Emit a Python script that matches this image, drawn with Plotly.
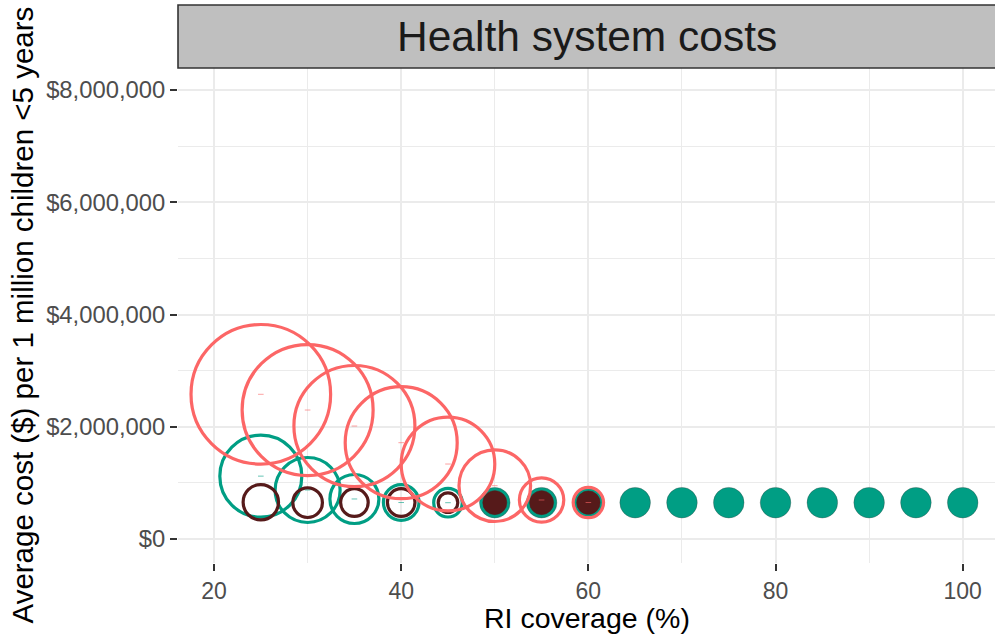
import plotly.graph_objects as go

# ---------------- data ----------------
coverage = [25, 30, 35, 40, 45, 50, 55, 60, 65, 70, 75, 80, 85, 90, 95, 100]

red_x = [25, 30, 35, 40, 45, 50, 55, 60]
red_cost = [2578000, 2298000, 2013000, 1716000, 1336000, 950000, 695000, 650000]
red_size = [139.6, 131, 121, 112, 93.6, 71.6, 44.4, 30.4]
red_filled = [False, False, False, False, False, False, False, False]

teal_x = coverage
teal_cost = [1120000, 873000, 713000, 650000, 647000, 647000, 647000, 647000,
             647000, 647000, 647000, 647000, 647000, 647000, 647000, 647000]
teal_size = [82, 65, 49, 35.6, 28.6, 30.6, 30.6, 30.6,
             30.6, 30.6, 30.6, 30.6, 30.6, 30.6, 30.6, 30.6]
teal_filled = [False, False, False, False, False, True, True, True,
               True, True, True, True, True, True, True, True]

brown_x = [25, 30, 35, 40, 45, 50, 55, 60]
brown_cost = [655000, 647000, 650000, 650000, 648000, 648000, 648000, 648000]
brown_size = [35.4, 29.6, 27.6, 27.6, 19.6, 24, 24, 23.4]
brown_filled = [False, False, False, False, False, True, True, True]

x_ticks = [20, 40, 60, 80, 100]
x_minor = [30, 50, 70, 90]
y_ticks = [0, 2000000, 4000000, 6000000, 8000000]
y_ticktext = ["$0", "$2,000,000", "$4,000,000", "$6,000,000", "$8,000,000"]
y_minor = [1000000, 3000000, 5000000, 7000000]

title_strip = "Health system costs"
x_title = "RI coverage (%)"
y_title = "Average cost ($) per 1 million children <5 years"

RED = "#FC6666"
TEAL = "#009E84"
BROWN = "#561A1A"
FONT = "Liberation Sans, Arial, sans-serif"

fig = go.Figure()


def bubble(xs, ys, sizes, filled, color, outline_filled, lw_filled):
    fill = [color if f else "rgba(0,0,0,0)" for f in filled]
    lcol = [outline_filled if f else color for f in filled]
    lw = [lw_filled if f else 3.2 for f in filled]
    fig.add_trace(go.Scatter(
        x=xs, y=ys, mode="markers", showlegend=False, hoverinfo="skip",
        marker=dict(symbol="circle", size=sizes, sizemode="diameter", opacity=1,
                    color=fill, line=dict(color=lcol, width=lw))))


def centers(xs, ys, filled, color):
    hx = [x for x, f in zip(xs, filled) if not f]
    hy = [y for y, f in zip(ys, filled) if not f]
    fig.add_trace(go.Scatter(
        x=hx, y=hy, mode="markers", showlegend=False, hoverinfo="skip",
        marker=dict(symbol="line-ew", size=4, opacity=0.6,
                    line=dict(color=color, width=1))))


bubble(teal_x, teal_cost, teal_size, teal_filled, TEAL, "rgba(60,60,60,0.55)", 0.6)
bubble(brown_x, brown_cost, brown_size, brown_filled, BROWN, BROWN, 0.6)
bubble(red_x, red_cost, red_size, red_filled, RED, RED, 0.6)
centers(teal_x, teal_cost, teal_filled, TEAL)
centers(red_x, red_cost, red_filled, RED)

plot_h = 634 - 68 - 71
plot_w = 995 - 178

fig.add_shape(type="rect", xref="paper", yref="paper",
              x0=0, x1=1.01, y0=1, y1=1 + 63 / plot_h,
              fillcolor="#BFBFBF", line=dict(color="#333333", width=1.6),
              layer="above")

fig.add_annotation(text=title_strip, xref="paper", yref="paper",
                   x=0.5, y=1 + 31.5 / plot_h, xanchor="center", yanchor="middle",
                   showarrow=False, font=dict(family=FONT, size=42.5, color="#1A1A1A"))
fig.add_annotation(text=x_title, xref="paper", yref="paper",
                   x=0.5, y=-(618 - 563) / plot_h, xanchor="center", yanchor="middle",
                   showarrow=False, font=dict(family=FONT, size=28.5, color="black"))
fig.add_annotation(text=y_title, xref="paper", yref="paper", textangle=-90,
                   x=(22 - 178) / plot_w, y=0.5, xanchor="center", yanchor="middle",
                   showarrow=False, font=dict(family=FONT, size=29.5, color="black"))

fig.update_layout(
    width=995, height=634,
    margin=dict(l=178, r=0, t=68, b=71),
    paper_bgcolor="white", plot_bgcolor="white",
    font=dict(family=FONT),
    xaxis=dict(range=[16.15, 103.45], tickvals=x_ticks, showgrid=True,
               gridcolor="#EBEBEB", gridwidth=1.6, zeroline=False, showline=False,
               ticks="outside", ticklen=7, tickwidth=2, tickcolor="#333333",
               tickfont=dict(family=FONT, size=23, color="#4D4D4D"),
               minor=dict(tickvals=x_minor, showgrid=True, gridcolor="#EBEBEB",
                          gridwidth=0.8, ticks="")),
    yaxis=dict(range=[-427600, 8392000], tickvals=y_ticks, ticktext=y_ticktext,
               showgrid=True, gridcolor="#EBEBEB", gridwidth=1.6, zeroline=False,
               showline=False, ticks="outside", ticklen=7, tickwidth=2,
               tickcolor="#333333",
               tickfont=dict(family=FONT, size=23.8, color="#4D4D4D"),
               minor=dict(tickvals=y_minor, showgrid=True, gridcolor="#EBEBEB",
                          gridwidth=0.8, ticks="")),
)

fig.write_html("out.html", config={"displayModeBar": False},
               post_script="document.body.style.margin='0';document.body.style.overflow='hidden';")
